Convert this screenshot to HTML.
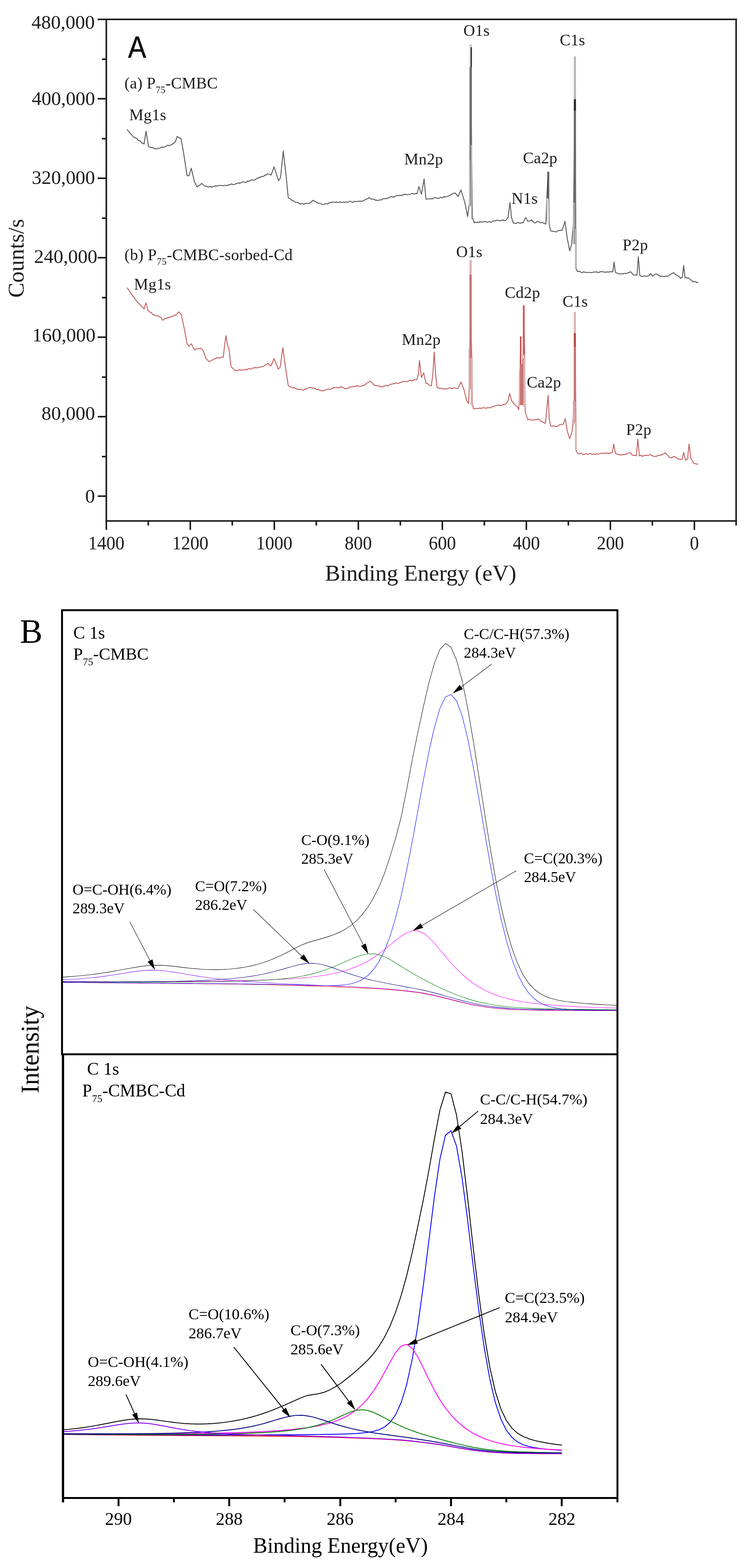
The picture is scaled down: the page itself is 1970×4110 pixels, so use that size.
<!DOCTYPE html>
<html lang="en"><head><meta charset="utf-8"><title>XPS spectra</title>
<style>html,body{margin:0;padding:0;background:#fff}body{width:1970px;height:4110px;overflow:hidden}svg{display:block}text{white-space:pre}</style>
</head><body>
<svg width="1970" height="4110" viewBox="0 0 1970 4110">
<rect x="0" y="0" width="1970" height="4110" fill="#fff"/>
<defs><filter id="soft" x="0" y="0" width="1970" height="1580" filterUnits="userSpaceOnUse"><feGaussianBlur stdDeviation="0.75"/></filter></defs>
<g id="panelA" filter="url(#soft)">
<line x1="256" y1="50.8" x2="1930.4" y2="50.8" stroke="#141414" stroke-width="4" />
<line x1="278.5" y1="48.8" x2="278.5" y2="1389" stroke="#141414" stroke-width="4" />
<line x1="276.5" y1="1365.6" x2="1930.4" y2="1365.6" stroke="#141414" stroke-width="4" />
<line x1="1928.4" y1="48.8" x2="1928.4" y2="1377.5" stroke="#141414" stroke-width="4" />
<text x="248.3" y="75.4" font-family='"Liberation Serif", "DejaVu Serif", serif' font-size="51" text-anchor="end" fill="#1c1c1c" >480,000</text>
<line x1="267" y1="155.2" x2="278.5" y2="155.2" stroke="#141414" stroke-width="4" />
<line x1="256" y1="258.8" x2="278.5" y2="258.8" stroke="#141414" stroke-width="4" />
<text x="249" y="274.6" font-family='"Liberation Serif", "DejaVu Serif", serif' font-size="51" text-anchor="end" fill="#1c1c1c" >400,000</text>
<line x1="267" y1="363.5" x2="278.5" y2="363.5" stroke="#141414" stroke-width="4" />
<line x1="256" y1="467.2" x2="278.5" y2="467.2" stroke="#141414" stroke-width="4" />
<text x="249" y="482" font-family='"Liberation Serif", "DejaVu Serif", serif' font-size="51" text-anchor="end" fill="#1c1c1c" >320,000</text>
<line x1="267" y1="571.8" x2="278.5" y2="571.8" stroke="#141414" stroke-width="4" />
<line x1="256" y1="675.5" x2="278.5" y2="675.5" stroke="#141414" stroke-width="4" />
<text x="255" y="689.1" font-family='"Liberation Serif", "DejaVu Serif", serif' font-size="51" text-anchor="end" fill="#1c1c1c" >240,000</text>
<line x1="267" y1="780.2" x2="278.5" y2="780.2" stroke="#141414" stroke-width="4" />
<line x1="256" y1="883.8" x2="278.5" y2="883.8" stroke="#141414" stroke-width="4" />
<text x="250.3" y="894.8" font-family='"Liberation Serif", "DejaVu Serif", serif' font-size="51" text-anchor="end" fill="#1c1c1c" >160,000</text>
<line x1="267" y1="988.5" x2="278.5" y2="988.5" stroke="#141414" stroke-width="4" />
<line x1="256" y1="1092.2" x2="278.5" y2="1092.2" stroke="#141414" stroke-width="4" />
<text x="249" y="1100.4" font-family='"Liberation Serif", "DejaVu Serif", serif' font-size="51" text-anchor="end" fill="#1c1c1c" >80,000</text>
<line x1="267" y1="1196.8" x2="278.5" y2="1196.8" stroke="#141414" stroke-width="4" />
<line x1="256" y1="1300.5" x2="278.5" y2="1300.5" stroke="#141414" stroke-width="4" />
<text x="248.8" y="1317" font-family='"Liberation Serif", "DejaVu Serif", serif' font-size="51" text-anchor="end" fill="#1c1c1c" >0</text>
<text transform="translate(278.4,1439.5) scale(0.95,1)" font-family='"Liberation Serif", "DejaVu Serif", serif' font-size="50" text-anchor="middle" fill="#1c1c1c">1400</text>
<line x1="388.4" y1="1365.6" x2="388.4" y2="1377.5" stroke="#141414" stroke-width="4" />
<line x1="498.5" y1="1365.6" x2="498.5" y2="1389" stroke="#141414" stroke-width="4" />
<text transform="translate(498.5,1439.5) scale(0.95,1)" font-family='"Liberation Serif", "DejaVu Serif", serif' font-size="50" text-anchor="middle" fill="#1c1c1c">1200</text>
<line x1="608.5" y1="1365.6" x2="608.5" y2="1377.5" stroke="#141414" stroke-width="4" />
<line x1="718.6" y1="1365.6" x2="718.6" y2="1389" stroke="#141414" stroke-width="4" />
<text transform="translate(718.6,1439.5) scale(0.95,1)" font-family='"Liberation Serif", "DejaVu Serif", serif' font-size="50" text-anchor="middle" fill="#1c1c1c">1000</text>
<line x1="828.6" y1="1365.6" x2="828.6" y2="1377.5" stroke="#141414" stroke-width="4" />
<line x1="938.7" y1="1365.6" x2="938.7" y2="1389" stroke="#141414" stroke-width="4" />
<text transform="translate(938.7,1439.5) scale(0.95,1)" font-family='"Liberation Serif", "DejaVu Serif", serif' font-size="50" text-anchor="middle" fill="#1c1c1c">800</text>
<line x1="1048.8" y1="1365.6" x2="1048.8" y2="1377.5" stroke="#141414" stroke-width="4" />
<line x1="1158.8" y1="1365.6" x2="1158.8" y2="1389" stroke="#141414" stroke-width="4" />
<text transform="translate(1158.8,1439.5) scale(0.95,1)" font-family='"Liberation Serif", "DejaVu Serif", serif' font-size="50" text-anchor="middle" fill="#1c1c1c">600</text>
<line x1="1268.8" y1="1365.6" x2="1268.8" y2="1377.5" stroke="#141414" stroke-width="4" />
<line x1="1378.9" y1="1365.6" x2="1378.9" y2="1389" stroke="#141414" stroke-width="4" />
<text transform="translate(1378.9,1439.5) scale(0.95,1)" font-family='"Liberation Serif", "DejaVu Serif", serif' font-size="50" text-anchor="middle" fill="#1c1c1c">400</text>
<line x1="1488.9" y1="1365.6" x2="1488.9" y2="1377.5" stroke="#141414" stroke-width="4" />
<line x1="1599" y1="1365.6" x2="1599" y2="1389" stroke="#141414" stroke-width="4" />
<text transform="translate(1599,1439.5) scale(0.95,1)" font-family='"Liberation Serif", "DejaVu Serif", serif' font-size="50" text-anchor="middle" fill="#1c1c1c">200</text>
<line x1="1709" y1="1365.6" x2="1709" y2="1377.5" stroke="#141414" stroke-width="4" />
<line x1="1819.1" y1="1365.6" x2="1819.1" y2="1389" stroke="#141414" stroke-width="4" />
<text transform="translate(1819.1,1439.5) scale(0.95,1)" font-family='"Liberation Serif", "DejaVu Serif", serif' font-size="50" text-anchor="middle" fill="#1c1c1c">0</text>
<text x="1102" y="1521.5" font-family='"Liberation Serif", "DejaVu Serif", serif' font-size="59.5" text-anchor="middle" fill="#1c1c1c" >Binding Energy (eV)</text>
<text transform="translate(61.8,677) rotate(-90)" font-family='"Liberation Serif", "DejaVu Serif", serif' font-size="59" text-anchor="middle" fill="#1c1c1c">Counts/s</text>
<text transform="translate(335.5,151) scale(0.9,1)" font-family='"Liberation Sans", "DejaVu Sans", sans-serif' font-size="79" fill="#111" stroke="#111" stroke-width="0.8">A</text>
<text x="326" y="231.5" font-family='"Liberation Serif", "DejaVu Serif", serif' font-size="42" fill="#1c1c1c" letter-spacing="0.3">(a) P<tspan font-size="25" dy="12">75</tspan><tspan dy="-12">-CMBC</tspan></text>
<text x="326" y="681.5" font-family='"Liberation Serif", "DejaVu Serif", serif' font-size="42" fill="#1c1c1c" letter-spacing="0.4">(b) P<tspan font-size="25" dy="12">75</tspan><tspan dy="-12">-CMBC-sorbed-Cd</tspan></text>
<text x="338.5" y="315" font-family='"Liberation Serif", "DejaVu Serif", serif' font-size="42" text-anchor="start" fill="#1c1c1c" letter-spacing="0.4">Mg1s</text>
<text x="351" y="759" font-family='"Liberation Serif", "DejaVu Serif", serif' font-size="42" text-anchor="start" fill="#1c1c1c" letter-spacing="0.4">Mg1s</text>
<text x="1214" y="94" font-family='"Liberation Serif", "DejaVu Serif", serif' font-size="42" text-anchor="start" fill="#1c1c1c" letter-spacing="0.4">O1s</text>
<text x="1466.5" y="119" font-family='"Liberation Serif", "DejaVu Serif", serif' font-size="42" text-anchor="start" fill="#1c1c1c" letter-spacing="0.4">C1s</text>
<text x="1059" y="431" font-family='"Liberation Serif", "DejaVu Serif", serif' font-size="42" text-anchor="start" fill="#1c1c1c" letter-spacing="0.4">Mn2p</text>
<text x="1370" y="427.5" font-family='"Liberation Serif", "DejaVu Serif", serif' font-size="42" text-anchor="start" fill="#1c1c1c" letter-spacing="0.4">Ca2p</text>
<text x="1340" y="533.5" font-family='"Liberation Serif", "DejaVu Serif", serif' font-size="42" text-anchor="start" fill="#1c1c1c" letter-spacing="0.4">N1s</text>
<text x="1631" y="656" font-family='"Liberation Serif", "DejaVu Serif", serif' font-size="42" text-anchor="start" fill="#1c1c1c" letter-spacing="0.4">P2p</text>
<text x="1195" y="674" font-family='"Liberation Serif", "DejaVu Serif", serif' font-size="42" text-anchor="start" fill="#1c1c1c" letter-spacing="0.4">O1s</text>
<text x="1322.5" y="781" font-family='"Liberation Serif", "DejaVu Serif", serif' font-size="42" text-anchor="start" fill="#1c1c1c" letter-spacing="0.4">Cd2p</text>
<text x="1473.8" y="804" font-family='"Liberation Serif", "DejaVu Serif", serif' font-size="42" text-anchor="start" fill="#1c1c1c" letter-spacing="0.4">C1s</text>
<text x="1052.5" y="904" font-family='"Liberation Serif", "DejaVu Serif", serif' font-size="42" text-anchor="start" fill="#1c1c1c" letter-spacing="0.4">Mn2p</text>
<text x="1380" y="1016" font-family='"Liberation Serif", "DejaVu Serif", serif' font-size="42" text-anchor="start" fill="#1c1c1c" letter-spacing="0.4">Ca2p</text>
<text x="1640" y="1140" font-family='"Liberation Serif", "DejaVu Serif", serif' font-size="42" text-anchor="start" fill="#1c1c1c" letter-spacing="0.4">P2p</text>
<path d="M332.5 340 L336 342.9 L339.5 347.8 L343 351 L346.5 355.6 L350 359 L353.1 361.5 L356.1 361.6 L359.2 363.5 L362.2 368.4 L365.3 368.5 L368.3 370.4 L371.4 375.1 L374.4 375.3 L377.5 377.5 L382.5 344 L389 384 L392.1 386.1 L395.2 385.9 L398.2 387.5 L401.3 386.8 L404.4 389.5 L407.5 390 L410.7 390.5 L413.9 388.7 L417.1 388.7 L420.4 387.7 L423.6 384.9 L426.8 386.6 L430 385 L433.3 384.3 L436.7 382.3 L440 380.4 L443.3 382.2 L446.7 379.9 L450 379 L453.3 376.7 L456.7 374.3 L460 370 L464 357.5 L467.3 359.9 L470.7 362.3 L474 362.5 L480 395 L490 460 L495 461 L501 441 L509 475 L516 490 L519.8 486.6 L523.7 485 L527.5 481 L531 482.8 L534.5 486.5 L538 488.3 L541.5 487.6 L545 491 L548.1 489.3 L551.2 489 L554.4 491.1 L557.5 488.8 L560.6 488.9 L563.8 487.3 L566.9 487.5 L570 487 L573 486.3 L576 485.9 L579 486.4 L582 486.1 L585 486.9 L588 485.8 L591 486.4 L594 485.8 L597 486 L600 484 L603.1 484.1 L606.2 481.9 L609.2 483.7 L612.3 483.6 L615.4 482.9 L618.5 481.2 L621.5 481.2 L624.6 479 L627.7 480.6 L630.8 479.3 L633.8 477.8 L636.9 476.5 L640 477.5 L643 478 L646 477.7 L649 473.9 L652 475.5 L655 473.4 L658 471.8 L661 471.5 L664 472.4 L667 472 L670 470 L673 467.1 L676 467.6 L679 464.3 L682 465.1 L685 462.4 L688 462.9 L691 461.8 L694 458.8 L697 459.1 L700 456 L703.3 456.4 L706.7 456.6 L710 459 L718 437.5 L730 474 L735 465 L742 396 L750 465 L755 517.5 L758.3 520.7 L761.7 521.6 L765 526 L768.3 526.3 L771.7 528.4 L775 530.4 L778.3 530.2 L781.7 531.1 L785 534 L788.1 535.1 L791.2 533.1 L794.4 535.2 L797.5 534.8 L800.6 533 L803.8 533.1 L806.9 533.2 L810 533 L813.3 530.8 L816.7 528 L820 525 L823.3 526.9 L826.7 528.7 L830 530 L833.5 532.8 L837 532.6 L840.5 533.7 L844 535.9 L847.5 536.5 L851 534.5 L854.5 533.6 L858 534.8 L861.5 532.2 L865 531 L868.2 531.1 L871.4 529.2 L874.5 530.4 L877.7 530.9 L880.9 528.9 L884.1 530.8 L887.3 530.8 L890.5 528.8 L893.6 530.6 L896.8 530 L900 530 L903.1 530.5 L906.2 529.2 L909.4 530.2 L912.5 530.2 L915.6 527.6 L918.8 527.6 L921.9 529.5 L925 530.3 L928.1 527.7 L931.2 528.3 L934.4 528.6 L937.5 527.5 L940.6 527.5 L943.8 527.2 L946.9 527.2 L950 527.5 L953 526.1 L956 523.4 L959 522 L962 521.6 L965 519 L968.1 518.3 L971.2 521 L974.4 522.4 L977.5 521.9 L980.6 522.4 L983.8 525.3 L986.9 524.2 L990 526 L993 524.1 L996 524.1 L999 524.1 L1002 521.2 L1005 521.1 L1008 520.3 L1011 521.2 L1014 519 L1017 519.6 L1020 517.5 L1023.1 515.8 L1026.2 515.8 L1029.2 516.3 L1032.3 516.5 L1035.4 514.4 L1038.5 513.1 L1041.5 512.2 L1044.6 513 L1047.7 511.3 L1050.8 512.8 L1053.8 512.3 L1056.9 509.5 L1060 510 L1063.2 509 L1066.5 510.5 L1069.8 509.7 L1073 510 L1076.2 508.2 L1079.5 507.2 L1082.8 507.5 L1086 509 L1089.2 507 L1092.5 507.5 L1097.5 489 L1104 509 L1111 469 L1116 522.5 L1119.2 521.6 L1122.3 521.4 L1125.5 521 L1128.7 520.5 L1131.8 521.8 L1135 520 L1138.2 518.4 L1141.4 517.4 L1144.5 520.1 L1147.7 519.5 L1150.9 519.4 L1154.1 517 L1157.3 518.3 L1160.5 517.8 L1163.6 515 L1166.8 516.3 L1170 515 L1173.2 514.9 L1176.4 513 L1179.6 511.2 L1182.9 509.1 L1186.1 508 L1189.3 506.4 L1192.5 506 L1200 515 L1207.5 498 L1217.5 530 L1225 567.5 L1230 530 L1232 300 L1233 117.5 L1234.5 300 L1237.5 570 L1242.5 584 L1245.6 582.1 L1248.6 583.4 L1251.7 581.9 L1254.7 583.3 L1257.8 580.2 L1260.8 582.7 L1263.9 581.5 L1266.9 581.9 L1270 580 L1273 581.8 L1276 582.4 L1279 581.8 L1282 580.3 L1285 582.5 L1288 582.3 L1291 579.4 L1294 578.8 L1297 579.1 L1300 577.5 L1303.1 577.6 L1306.2 577.2 L1309.4 579 L1312.5 577.9 L1315.6 577 L1318.8 576.7 L1321.9 578.7 L1325 577.5 L1331 570 L1336 531 L1340 570 L1345 585 L1348.1 584.8 L1351.2 585.7 L1354.4 584.1 L1357.5 583.5 L1360.6 584.5 L1363.8 585.3 L1366.9 583 L1370 584 L1377.5 570 L1382.5 580 L1385.8 579.7 L1389.2 578.8 L1392.5 576 L1396.2 581 L1400 584 L1403.3 584.1 L1406.7 580.3 L1410 581 L1413.3 582.5 L1416.7 584.4 L1420 582.7 L1423.3 584.6 L1426.7 585.6 L1430 587.5 L1432.5 520 L1436 451 L1439 590 L1442.5 605 L1445.6 605.7 L1448.8 606 L1451.9 606.8 L1455 607.5 L1458.5 607.7 L1462 604.4 L1465.5 603.9 L1469 603.4 L1472.5 604 L1480 580 L1486 625 L1492.5 657.5 L1497.5 640 L1502.5 580 L1505 300 L1506 149 L1507.5 300 L1508.5 703 L1513 712 L1516.2 711 L1519.4 711.2 L1522.6 714.6 L1525.8 714.5 L1528.9 712.2 L1532.1 714 L1535.3 713.6 L1538.5 714.6 L1541.5 713.9 L1544.5 713.9 L1547.5 714.8 L1550.5 714.4 L1553.5 713.6 L1556.5 712.9 L1559.5 713.2 L1562.5 712.4 L1565.5 713.8 L1568.5 714.2 L1571.5 712.9 L1574.5 711.8 L1577.5 712 L1580.5 712.6 L1583.5 713.2 L1586.5 713.7 L1589.5 712.2 L1592.5 713.6 L1595.5 712.8 L1598.5 712.3 L1602 712.1 L1605.4 712.3 L1608.6 687 L1612.3 714.6 L1615.4 715.2 L1618.4 716.7 L1621.5 717.8 L1624.6 718.4 L1627.7 717.3 L1630.8 718.1 L1633.8 717.1 L1636.9 716.3 L1640 717 L1643.8 715.6 L1647.7 714.5 L1651.5 712.3 L1655 715 L1658.5 720.6 L1661.9 720.6 L1665.2 720.9 L1668.6 721.5 L1672.3 673 L1676 721.5 L1679.3 723.6 L1682.7 724.5 L1686 723.8 L1689.5 723 L1693 724.5 L1696.5 723.8 L1700 722.5 L1704.6 717 L1710 723.8 L1714.2 720 L1718.5 717.8 L1721.6 719.5 L1724.6 720.3 L1727.7 723.4 L1731 724.5 L1734.3 724 L1737.6 724.7 L1740.9 724.4 L1744.2 724 L1747.5 724.2 L1750.8 723.4 L1754.2 721.4 L1757.7 717.7 L1761.1 717.1 L1764.6 714.6 L1769.2 719.2 L1774.8 722.5 L1778.9 724.5 L1783 729.8 L1787.7 726 L1791 696 L1794.6 728.5 L1797.7 727.3 L1800.7 729.4 L1803.8 728.5 L1808.5 733 L1812 734.5 L1815.4 739 L1818.8 737.9 L1822.2 738.1 L1825.6 741 L1829 740" fill="none" stroke="#5c5c5c" stroke-width="2.4" stroke-linejoin="round"/>
<path d="M333 754 L347.5 775 L362.5 795 L365.5 797.4 L368.5 799.8 L371.5 804.5 L374.5 805.5 L377.5 810 L382.5 794 L387.5 814 L390.5 816.5 L393.5 818.3 L396.5 819.7 L399.5 823.6 L402.5 826 L405.8 825.5 L409.2 827.9 L412.5 827.8 L415.8 828.9 L419.2 831.2 L422.5 832.5 L425 839 L428 838.8 L431 835.1 L434 834.2 L437 834.2 L440 832.5 L443.3 832.9 L446.7 830.6 L450 828.9 L453.3 829.8 L456.7 825.5 L460 826 L463 824.4 L466 819.6 L469 817.5 L475 825 L482.5 860 L490 900 L495 907.5 L501 901 L510 917.5 L513 915.3 L516 914.2 L519 913.8 L522 914.6 L525 912.5 L528.8 915.2 L532.5 920 L540 940 L543.8 944 L547.5 947.5 L551 946.5 L554.5 944.1 L558 943.2 L561.5 940 L565 940 L568.3 937.8 L571.7 937.7 L575 938.6 L578.3 937.1 L581.7 936 L585 936 L589 900 L592 880 L596 905 L600 915 L605 960 L608.3 964 L611.7 967.2 L615 971 L618 970.1 L621 971.6 L624 971.1 L627 969.3 L630 970 L633 969.9 L636 969.3 L639 970.1 L642 969.2 L645 967.3 L648 969.2 L651 965.9 L654 966.5 L657 967.3 L660 966 L663 964.2 L666 964.8 L669 962.6 L672 964.2 L675 963.9 L678 962.6 L681 963.1 L684 960.6 L687 961.3 L690 960 L693.1 958.4 L696.2 956.5 L699.4 954.2 L702.5 952.5 L706.2 956.9 L710 959 L718 940 L729 967.5 L734 962.5 L741 911 L747.5 960 L755 1010 L758.3 1013.5 L761.7 1013.9 L765 1016 L768 1017.2 L771 1015.8 L774 1018.6 L777 1019.1 L780 1020.9 L783 1021 L786 1019.8 L789 1020.8 L792 1022.4 L795 1022.5 L798.3 1019.8 L801.7 1020.2 L805 1018.1 L808.3 1016.9 L811.7 1015.6 L815 1016 L818.1 1017.8 L821.1 1016.5 L824.2 1017.8 L827.2 1019.2 L830.3 1021.7 L833.3 1019.9 L836.4 1022 L839.4 1023.3 L842.5 1024 L845.6 1024.6 L848.6 1023.8 L851.7 1023.2 L854.7 1020.6 L857.8 1020.4 L860.8 1019.5 L863.9 1020.6 L866.9 1020.2 L870 1018 L873.1 1016.5 L876.1 1016.2 L879.2 1016.1 L882.2 1015.8 L885.3 1016.3 L888.3 1016.3 L891.4 1014.9 L894.4 1013.6 L897.5 1015 L901.2 1017.2 L905 1020 L908 1018.1 L911 1017.2 L914 1017 L917 1014 L920.2 1014.3 L923.5 1013.3 L926.8 1013.3 L930 1012.5 L933.1 1012.8 L936.2 1010.4 L939.4 1012.9 L942.5 1012.2 L945.6 1012.2 L948.8 1011.6 L951.9 1009.9 L955 1010 L958.5 1006.9 L962 1003.2 L965.5 1002.2 L969 999 L972.7 1001.2 L976.3 1004.9 L980 1010 L983.3 1009.8 L986.7 1010.5 L990 1012 L993.3 1011.8 L996.7 1012.5 L1000 1015 L1003.2 1012.9 L1006.4 1011.8 L1009.5 1011.8 L1012.7 1009.8 L1015.9 1011.7 L1019.1 1009.9 L1022.3 1007.4 L1025.5 1006.9 L1028.6 1006.3 L1031.8 1005.4 L1035 1005 L1038.2 1003.2 L1041.4 1005.1 L1044.5 1005 L1047.7 1002.7 L1050.9 1002.2 L1054.1 1000.3 L1057.3 999.8 L1060.5 1000.1 L1063.6 999.3 L1066.8 1000.7 L1070 999 L1073.2 997.3 L1076.4 996.2 L1079.6 998.8 L1082.9 996.8 L1086.1 994.9 L1089.3 995.7 L1092.5 995 L1096 980 L1099 945 L1104 990 L1110 977.5 L1116 1005 L1119.5 1004.9 L1123 1008.1 L1126.5 1011.1 L1130 1011 L1134 980 L1137.5 922.5 L1141 980 L1145 1015 L1148 1017.2 L1151 1017.7 L1154 1017.2 L1157 1018.5 L1160 1020 L1163 1018.5 L1166 1020.1 L1169 1018.9 L1172 1019.3 L1175 1017.4 L1178 1016.7 L1181 1018.3 L1184 1018.4 L1187 1017.6 L1190 1016 L1193.3 1017.5 L1196.7 1018.1 L1200 1017.5 L1207.5 1001 L1215 1020 L1222.5 1050 L1227.5 1057.5 L1230 1000 L1231.5 850 L1232.5 682.5 L1234 850 L1236 940 L1238 1060 L1240 1071 L1243.3 1071.8 L1246.7 1070.1 L1250 1071.1 L1253.3 1070.5 L1256.7 1069.4 L1260 1071 L1263 1068.9 L1266 1069.3 L1269 1068.7 L1272 1069.7 L1275 1070.1 L1278 1067.8 L1281 1069 L1284 1068.7 L1287 1068 L1290 1066 L1293.2 1064.9 L1296.4 1063.8 L1299.5 1063.2 L1302.7 1062.4 L1305.9 1061.8 L1309.1 1062.6 L1312.3 1062.9 L1315.5 1062.1 L1318.6 1060.2 L1321.8 1060.2 L1325 1059 L1331 1050 L1335 1031 L1340 1050 L1347.5 1060 L1351.2 1063.5 L1355 1065 L1359 1074 L1362.5 970 L1364 882.5 L1366 1050 L1368 1060 L1370 930 L1372 801 L1374 942 L1376 1080 L1382.5 1100 L1386 1098.6 L1389.5 1100.5 L1393 1101.4 L1396.5 1101 L1400 1100 L1403.1 1100.6 L1406.2 1099.4 L1409.4 1098.2 L1412.5 1099 L1416.2 1103.5 L1420 1106 L1423 1106.4 L1426 1109 L1429 1109 L1432 1075 L1436 1036 L1439 1100 L1442.5 1116 L1445.6 1118 L1448.8 1116.4 L1451.9 1116.8 L1455 1117.5 L1458.3 1118.2 L1461.7 1116.6 L1465 1113.9 L1468.3 1112.9 L1471.7 1112.1 L1475 1112.5 L1481 1097.5 L1486 1130 L1492.5 1150 L1499 1130 L1504 1050 L1505 930 L1506 818.5 L1507.5 930 L1509 1180 L1513 1188 L1516.2 1189.7 L1519.4 1189.7 L1522.6 1187.7 L1525.8 1190.4 L1528.9 1191.2 L1532.1 1190.4 L1535.3 1189.7 L1538.5 1190.5 L1541.5 1190.5 L1544.5 1189 L1547.5 1188.5 L1550.5 1191.6 L1553.5 1190.4 L1556.5 1189.8 L1559.5 1191.1 L1562.5 1189.3 L1565.5 1190.6 L1568.5 1190.4 L1571.5 1188.1 L1574.5 1188.2 L1577.5 1188.2 L1580.5 1187.9 L1583.5 1188.9 L1586.5 1187.7 L1589.5 1188.1 L1592.5 1187 L1595.5 1189.5 L1598.5 1188 L1604.5 1186 L1607.7 1164 L1612.3 1189 L1615.4 1189.5 L1618.4 1190.9 L1621.5 1192 L1624.6 1192 L1627.7 1192.9 L1630.8 1191 L1633.8 1192.4 L1636.9 1190.8 L1640 1190.5 L1643 1189.1 L1646 1187.6 L1649 1186 L1652.5 1187.9 L1656 1193 L1659.6 1193.5 L1663.2 1193.3 L1666.8 1195 L1671 1151 L1675 1195 L1678.7 1193.3 L1682.3 1196 L1686 1195 L1689.3 1193.3 L1692.5 1193.7 L1695.8 1194 L1699 1192.8 L1702.3 1192 L1706.1 1192.9 L1710 1195.1 L1713.8 1196.5 L1716.9 1196.1 L1720 1196.3 L1723 1193.4 L1726.1 1194.4 L1729.2 1192.7 L1732.3 1193 L1735.7 1190.2 L1739.1 1189.9 L1742.5 1187 L1745.7 1190.2 L1749 1193.6 L1752.2 1197.4 L1755.4 1199.7 L1759.3 1200 L1763.1 1197.4 L1767 1196.5 L1770 1199 L1773 1200.9 L1776 1203 L1779.6 1203.5 L1783.2 1204.5 L1786.8 1204.3 L1791 1186 L1796 1206.6 L1801.5 1202 L1805 1164 L1810 1202 L1817.7 1215 L1821.5 1215.4 L1825.2 1216.3 L1829 1216.8" fill="none" stroke="#c26262" stroke-width="2.4" stroke-linejoin="round"/>
<rect x="1230" y="117" width="6.2" height="59" fill="#c8c8c8"/>
<rect x="1233" y="124" width="3.2" height="52" fill="#2a2a2a"/>
<rect x="1230" y="176" width="6.2" height="204" fill="#6c6c6c"/>
<rect x="1228.5" y="420" width="3" height="120" fill="#c4c4c4"/>
<rect x="1231.5" y="380" width="2.5" height="160" fill="#8a8a8a"/>
<rect x="1234" y="380" width="3" height="195" fill="#b4b4b4"/>
<rect x="1503.2" y="149" width="5.6" height="111" fill="#b8b8b8"/>
<rect x="1503.2" y="260" width="5.6" height="30" fill="#2a2a2a"/>
<rect x="1503.2" y="290" width="5.6" height="241" fill="#6c6c6c"/>
<rect x="1500.6" y="531" width="3" height="109" fill="#c0c0c0"/>
<rect x="1503.6" y="531" width="2.8" height="109" fill="#8a8a8a"/>
<rect x="1506.4" y="600" width="4.6" height="104" fill="#b4b4b4"/>
<rect x="1434.3" y="450" width="2.7" height="70" fill="#3a3a3a"/>
<rect x="1437" y="450" width="2.6" height="140" fill="#9a9a9a"/>
<rect x="1431.5" y="520" width="2.8" height="60" fill="#b8b8b8"/>
<rect x="1229.8" y="681.5" width="6" height="38.5" fill="#dcb4b4"/>
<rect x="1229.8" y="720" width="3" height="20" fill="#c46464"/>
<rect x="1229.8" y="720" width="6" height="218" fill="#c87474"/>
<rect x="1227" y="915" width="3" height="105" fill="#e0c0c0"/>
<rect x="1230" y="938" width="3" height="82" fill="#cc9090"/>
<rect x="1233" y="938" width="5.5" height="124" fill="#dcb0b0"/>
<rect x="1368.3" y="801" width="2.7" height="139" fill="#ecc0c0"/>
<rect x="1371" y="801" width="3" height="129" fill="#c23434"/>
<rect x="1362" y="882" width="3" height="73" fill="#b44848"/>
<rect x="1365" y="882" width="3.3" height="73" fill="#ecc0c0"/>
<rect x="1362" y="955" width="9" height="107" fill="#c87474"/>
<rect x="1359" y="970" width="3" height="96" fill="#e0b8b8"/>
<rect x="1371" y="940" width="5.5" height="126" fill="#e0b4b4"/>
<rect x="1503.1" y="819" width="5.6" height="54.5" fill="#dcb4b4"/>
<rect x="1503.1" y="873.5" width="5.6" height="35.5" fill="#b44c4c"/>
<rect x="1503.1" y="909" width="5.6" height="143.5" fill="#c87474"/>
<rect x="1500.4" y="1052" width="3" height="68" fill="#e0b8b8"/>
<rect x="1503.4" y="1052" width="2.8" height="58" fill="#cc8c8c"/>
<rect x="1506.2" y="1105" width="4.8" height="73" fill="#e0b4b4"/>
</g>
<g id="panelB">
<rect x="160" y="1597" width="1460" height="5" fill="#000"/>
<rect x="160" y="1597" width="5" height="1169" fill="#000"/>
<rect x="1615" y="1597" width="5" height="2341" fill="#000"/>
<rect x="160" y="2761" width="1460" height="5" fill="#000"/>
<rect x="162" y="2761" width="6" height="1177" fill="#000"/>
<rect x="162" y="3924" width="1458" height="5" fill="#000"/>
<rect x="1469" y="3926" width="5" height="22" fill="#000"/>
<text x="1472" y="3997" font-family='"Liberation Serif", "DejaVu Serif", serif' font-size="47" text-anchor="middle" fill="#000" >282</text>
<rect x="1324" y="3926" width="5" height="12" fill="#000"/>
<rect x="1179" y="3926" width="5" height="22" fill="#000"/>
<text x="1181.5" y="3997" font-family='"Liberation Serif", "DejaVu Serif", serif' font-size="47" text-anchor="middle" fill="#000" >284</text>
<rect x="1034" y="3926" width="5" height="12" fill="#000"/>
<rect x="889" y="3926" width="5" height="22" fill="#000"/>
<text x="891.1" y="3997" font-family='"Liberation Serif", "DejaVu Serif", serif' font-size="47" text-anchor="middle" fill="#000" >286</text>
<rect x="743" y="3926" width="5" height="12" fill="#000"/>
<rect x="598" y="3926" width="5" height="22" fill="#000"/>
<text x="600.6" y="3997" font-family='"Liberation Serif", "DejaVu Serif", serif' font-size="47" text-anchor="middle" fill="#000" >288</text>
<rect x="453" y="3926" width="5" height="12" fill="#000"/>
<rect x="308" y="3926" width="5" height="22" fill="#000"/>
<text x="310.2" y="3997" font-family='"Liberation Serif", "DejaVu Serif", serif' font-size="47" text-anchor="middle" fill="#000" >290</text>
<text x="892" y="4070" font-family='"Liberation Serif", "DejaVu Serif", serif' font-size="56" text-anchor="middle" fill="#000" >Binding Energy(eV)</text>
<text transform="translate(100.5,2751) rotate(-90) scale(0.98,1)" font-family='"Liberation Serif", "DejaVu Serif", serif' font-size="67" text-anchor="middle" fill="#000">Intensity</text>
<text x="52" y="1684" font-family='"Liberation Serif", "DejaVu Serif", serif' font-size="89" text-anchor="start" fill="#000" >B</text>
<text x="192" y="1674" font-family='"Liberation Serif", "DejaVu Serif", serif' font-size="46" text-anchor="start" fill="#000" >C 1s</text>
<text x="192" y="1729" font-family='"Liberation Serif", "DejaVu Serif", serif' font-size="45" fill="#000" >P<tspan font-size="27" dy="15">75</tspan><tspan dy="-15">-CMBC</tspan></text>
<text x="228" y="2816.5" font-family='"Liberation Serif", "DejaVu Serif", serif' font-size="46.5" text-anchor="start" fill="#000" >C 1s</text>
<text x="215.5" y="2874" font-family='"Liberation Serif", "DejaVu Serif", serif' font-size="46" fill="#000" >P<tspan font-size="27" dy="15">75</tspan><tspan dy="-15">-CMBC-Cd</tspan></text>
<text x="1215" y="1675" font-family='"Liberation Serif", "DejaVu Serif", serif' font-size="40" text-anchor="start" fill="#000" >C-C/C-H(57.3%)</text>
<text x="1215" y="1724" font-family='"Liberation Serif", "DejaVu Serif", serif' font-size="40" text-anchor="start" fill="#000" >284.3eV</text>
<text x="1372.5" y="2262.5" font-family='"Liberation Serif", "DejaVu Serif", serif' font-size="40" text-anchor="start" fill="#000" >C=C(20.3%)</text>
<text x="1372.5" y="2311.5" font-family='"Liberation Serif", "DejaVu Serif", serif' font-size="40" text-anchor="start" fill="#000" >284.5eV</text>
<text x="789" y="2215" font-family='"Liberation Serif", "DejaVu Serif", serif' font-size="40" text-anchor="start" fill="#000" >C-O(9.1%)</text>
<text x="789" y="2264" font-family='"Liberation Serif", "DejaVu Serif", serif' font-size="40" text-anchor="start" fill="#000" >285.3eV</text>
<text x="511" y="2336" font-family='"Liberation Serif", "DejaVu Serif", serif' font-size="40" text-anchor="start" fill="#000" >C=O(7.2%)</text>
<text x="511" y="2385" font-family='"Liberation Serif", "DejaVu Serif", serif' font-size="40" text-anchor="start" fill="#000" >286.2eV</text>
<text x="190" y="2345" font-family='"Liberation Serif", "DejaVu Serif", serif' font-size="40" text-anchor="start" fill="#000" >O=C-OH(6.4%)</text>
<text x="190" y="2394" font-family='"Liberation Serif", "DejaVu Serif", serif' font-size="40" text-anchor="start" fill="#000" >289.3eV</text>
<text x="1257.5" y="2895" font-family='"Liberation Serif", "DejaVu Serif", serif' font-size="40.7" text-anchor="start" fill="#000" >C-C/C-H(54.7%)</text>
<text x="1257.5" y="2946" font-family='"Liberation Serif", "DejaVu Serif", serif' font-size="40.7" text-anchor="start" fill="#000" >284.3eV</text>
<text x="1322.5" y="3415" font-family='"Liberation Serif", "DejaVu Serif", serif' font-size="40.7" text-anchor="start" fill="#000" >C=C(23.5%)</text>
<text x="1322.5" y="3466" font-family='"Liberation Serif", "DejaVu Serif", serif' font-size="40.7" text-anchor="start" fill="#000" >284.9eV</text>
<text x="761" y="3500" font-family='"Liberation Serif", "DejaVu Serif", serif' font-size="40.7" text-anchor="start" fill="#000" >C-O(7.3%)</text>
<text x="761" y="3550" font-family='"Liberation Serif", "DejaVu Serif", serif' font-size="40.7" text-anchor="start" fill="#000" >285.6eV</text>
<text x="494" y="3457.5" font-family='"Liberation Serif", "DejaVu Serif", serif' font-size="40.7" text-anchor="start" fill="#000" >C=O(10.6%)</text>
<text x="494" y="3507.5" font-family='"Liberation Serif", "DejaVu Serif", serif' font-size="40.7" text-anchor="start" fill="#000" >286.7eV</text>
<text x="230" y="3582.5" font-family='"Liberation Serif", "DejaVu Serif", serif' font-size="40.7" text-anchor="start" fill="#000" >O=C-OH(4.1%)</text>
<text x="230" y="3632.5" font-family='"Liberation Serif", "DejaVu Serif", serif' font-size="40.7" text-anchor="start" fill="#000" >289.6eV</text>
<path d="M165 2561.1 L179.5 2560.1 L194 2559 L208.5 2557.7 L223.1 2556.3 L237.6 2554.7 L252.1 2552.9 L266.6 2550.8 L281.2 2548.6 L295.7 2546.1 L310.2 2543.5 L324.7 2540.8 L339.2 2538.2 L353.8 2535.6 L368.3 2533.4 L382.8 2531.6 L397.3 2530.5 L411.9 2530.1 L426.4 2530.4 L440.9 2531.4 L455.4 2532.9 L469.9 2534.6 L484.5 2536.4 L499 2538 L513.5 2539.4 L528 2540.5 L542.6 2541.2 L557.1 2541.6 L571.6 2541.6 L586.1 2541.1 L600.6 2540.2 L615.2 2538.8 L629.7 2536.9 L644.2 2534.5 L658.7 2531.6 L673.2 2528 L687.8 2523.7 L702.3 2518.7 L716.8 2513 L731.3 2506.5 L745.9 2499.4 L760.4 2491.9 L774.9 2484.4 L789.4 2477.5 L803.9 2471.6 L818.5 2467.1 L833 2463.1 L847.5 2458.9 L862 2454.4 L876.6 2449.2 L891.1 2442.9 L905.6 2435.1 L920.1 2425.1 L934.6 2412.6 L949.2 2396.9 L963.7 2377.5 L978.2 2353.8 L992.7 2324.9 L1007.3 2289.2 L1021.8 2244.9 L1036.3 2198 L1050.8 2141.9 L1065.3 2070.2 L1079.9 1991.6 L1094.4 1921.1 L1108.9 1853.3 L1123.4 1790.6 L1138 1738.4 L1152.5 1702 L1167 1686.7 L1181.5 1696.4 L1196 1730.1 L1210.6 1784.1 L1225.1 1855.8 L1239.6 1940.4 L1254.1 2032.3 L1268.7 2126.2 L1283.2 2217 L1297.7 2300.4 L1312.2 2373.6 L1326.7 2435.5 L1341.3 2485.7 L1355.8 2525.1 L1370.3 2554.9 L1384.8 2577 L1399.4 2592.7 L1413.9 2603.7 L1428.4 2611.4 L1442.9 2616.8 L1457.4 2620.7 L1472 2623.5 L1486.5 2625.7 L1501 2627.4 L1515.5 2628.8 L1530 2630 L1544.6 2631.1 L1559.1 2632.1 L1573.6 2632.9 L1588.1 2633.7 L1602.7 2634.5 L1615 2635.1" fill="none" stroke="#000" stroke-width="1.15" stroke-linejoin="round"/>
<path d="M165 2575 L179.5 2575.2 L194 2575.3 L208.5 2575.5 L223.1 2575.6 L237.6 2575.8 L252.1 2575.9 L266.6 2576.1 L281.2 2576.3 L295.7 2576.4 L310.2 2576.6 L324.7 2576.7 L339.2 2576.9 L353.8 2577 L368.3 2577.2 L382.8 2577.3 L397.3 2577.5 L411.9 2577.6 L426.4 2577.8 L440.9 2577.9 L455.4 2578 L469.9 2578.1 L484.5 2578.3 L499 2578.4 L513.5 2578.5 L528 2578.6 L542.6 2578.8 L557.1 2578.9 L571.6 2579 L586.1 2579.2 L600.6 2579.3 L615.2 2579.5 L629.7 2579.7 L644.2 2579.9 L658.7 2580.1 L673.2 2580.4 L687.8 2580.7 L702.3 2581.1 L716.8 2581.5 L731.3 2581.9 L745.9 2582.3 L760.4 2582.8 L774.9 2583.2 L789.4 2583.7 L803.9 2584.1 L818.5 2584.6 L833 2585 L847.5 2585.5 L862 2586 L876.6 2586.6 L891.1 2587.1 L905.6 2587.7 L920.1 2588.3 L934.6 2589 L949.2 2589.6 L963.7 2590.4 L978.2 2591.2 L992.7 2592 L1007.3 2593 L1021.8 2594.1 L1036.3 2595.3 L1050.8 2596.7 L1065.3 2598.2 L1079.9 2599.9 L1094.4 2601.7 L1108.9 2603.9 L1123.4 2606.6 L1138 2609.8 L1152.5 2613.1 L1167 2616.6 L1181.5 2620.4 L1196 2624.1 L1210.6 2627.5 L1225.1 2630.9 L1239.6 2634.1 L1254.1 2636.7 L1268.7 2639 L1283.2 2641.1 L1297.7 2642.8 L1312.2 2644.1 L1326.7 2645.2 L1341.3 2646.1 L1355.8 2646.7 L1370.3 2647.3 L1384.8 2647.7 L1399.4 2648 L1413.9 2648.1 L1428.4 2648.3 L1442.9 2648.4 L1457.4 2648.5 L1472 2648.6 L1486.5 2648.6 L1501 2648.7 L1515.5 2648.8 L1530 2648.8 L1544.6 2648.9 L1559.1 2648.9 L1573.6 2649 L1588.1 2649 L1602.7 2649 L1615 2649" fill="none" stroke="#ff0000" stroke-width="1.15" stroke-linejoin="round"/>
<path d="M165 2574.8 L179.5 2574.9 L194 2575.1 L208.5 2575.2 L223.1 2575.4 L237.6 2575.5 L252.1 2575.7 L266.6 2575.8 L281.2 2576 L295.7 2576.1 L310.2 2576.3 L324.7 2576.4 L339.2 2576.5 L353.8 2576.7 L368.3 2576.8 L382.8 2577 L397.3 2577.1 L411.9 2577.2 L426.4 2577.4 L440.9 2577.5 L455.4 2577.6 L469.9 2577.7 L484.5 2577.8 L499 2577.9 L513.5 2578 L528 2578.1 L542.6 2578.2 L557.1 2578.3 L571.6 2578.4 L586.1 2578.5 L600.6 2578.7 L615.2 2578.8 L629.7 2579 L644.2 2579.1 L658.7 2579.3 L673.2 2579.5 L687.8 2579.8 L702.3 2580.1 L716.8 2580.4 L731.3 2580.8 L745.9 2581.1 L760.4 2581.5 L774.9 2581.9 L789.4 2582.2 L803.9 2582.5 L818.5 2582.8 L833 2583.1 L847.5 2583.2 L862 2583.3 L876.6 2583 L891.1 2582.4 L905.6 2581 L920.1 2578.5 L934.6 2574.2 L949.2 2567.4 L963.7 2557 L978.2 2541.9 L992.7 2520.6 L1007.3 2491.7 L1021.8 2453.9 L1036.3 2406.2 L1050.8 2348.4 L1065.3 2281.1 L1079.9 2206.2 L1094.4 2126.6 L1108.9 2046.5 L1123.4 1971.5 L1138 1906.6 L1152.5 1856.9 L1167 1827.1 L1181.5 1820.2 L1196 1837 L1210.6 1876.4 L1225.1 1935.3 L1239.6 2008.7 L1254.1 2090.9 L1268.7 2176.4 L1283.2 2260.2 L1297.7 2338.1 L1312.2 2407.3 L1326.7 2466.2 L1341.3 2514.4 L1355.8 2552.4 L1370.3 2581.4 L1384.8 2602.7 L1399.4 2617.7 L1413.9 2628 L1428.4 2635 L1442.9 2639.5 L1457.4 2642.4 L1472 2644.2 L1486.5 2645.4 L1501 2646.1 L1515.5 2646.6 L1530 2647 L1544.6 2647.2 L1559.1 2647.4 L1573.6 2647.5 L1588.1 2647.7 L1602.7 2647.8 L1615 2647.8" fill="none" stroke="#0000ff" stroke-width="1.15" stroke-linejoin="round"/>
<path d="M165 2572.6 L179.5 2572.7 L194 2572.7 L208.5 2572.8 L223.1 2572.9 L237.6 2573 L252.1 2573 L266.6 2573.1 L281.2 2573.1 L295.7 2573.2 L310.2 2573.2 L324.7 2573.2 L339.2 2573.2 L353.8 2573.2 L368.3 2573.3 L382.8 2573.2 L397.3 2573.2 L411.9 2573.2 L426.4 2573.1 L440.9 2573.1 L455.4 2573 L469.9 2572.9 L484.5 2572.8 L499 2572.6 L513.5 2572.5 L528 2572.3 L542.6 2572.1 L557.1 2571.9 L571.6 2571.6 L586.1 2571.4 L600.6 2571.1 L615.2 2570.8 L629.7 2570.4 L644.2 2570.1 L658.7 2569.7 L673.2 2569.3 L687.8 2568.8 L702.3 2568.3 L716.8 2567.8 L731.3 2567.2 L745.9 2566.5 L760.4 2565.7 L774.9 2564.7 L789.4 2563.6 L803.9 2562.2 L818.5 2560.7 L833 2558.8 L847.5 2556.7 L862 2554.2 L876.6 2551.2 L891.1 2547.8 L905.6 2543.8 L920.1 2539 L934.6 2533.4 L949.2 2526.8 L963.7 2519.2 L978.2 2510.3 L992.7 2500.3 L1007.3 2489.1 L1021.8 2477.1 L1036.3 2465 L1050.8 2453.9 L1065.3 2445 L1079.9 2440 L1094.4 2439.9 L1108.9 2445.7 L1123.4 2457.1 L1138 2472.3 L1152.5 2489.3 L1167 2506.9 L1181.5 2523.9 L1196 2539.6 L1210.6 2553.7 L1225.1 2566.3 L1239.6 2577.3 L1254.1 2586.7 L1268.7 2594.7 L1283.2 2601.7 L1297.7 2607.6 L1312.2 2612.5 L1326.7 2616.8 L1341.3 2620.4 L1355.8 2623.4 L1370.3 2626 L1384.8 2628.3 L1399.4 2630.1 L1413.9 2631.7 L1428.4 2633.1 L1442.9 2634.3 L1457.4 2635.4 L1472 2636.4 L1486.5 2637.3 L1501 2638.1 L1515.5 2638.9 L1530 2639.5 L1544.6 2640.1 L1559.1 2640.7 L1573.6 2641.2 L1588.1 2641.6 L1602.7 2642 L1615 2642.4" fill="none" stroke="#ff00ff" stroke-width="1.15" stroke-linejoin="round"/>
<path d="M165 2573.4 L179.5 2573.5 L194 2573.6 L208.5 2573.7 L223.1 2573.8 L237.6 2573.8 L252.1 2573.9 L266.6 2574 L281.2 2574.1 L295.7 2574.1 L310.2 2574.2 L324.7 2574.2 L339.2 2574.3 L353.8 2574.3 L368.3 2574.3 L382.8 2574.3 L397.3 2574.4 L411.9 2574.3 L426.4 2574.3 L440.9 2574.3 L455.4 2574.2 L469.9 2574.1 L484.5 2574 L499 2573.9 L513.5 2573.7 L528 2573.6 L542.6 2573.4 L557.1 2573.2 L571.6 2572.9 L586.1 2572.6 L600.6 2572.3 L615.2 2572 L629.7 2571.6 L644.2 2571.1 L658.7 2570.6 L673.2 2570 L687.8 2569.4 L702.3 2568.6 L716.8 2567.6 L731.3 2566.5 L745.9 2565.1 L760.4 2563.5 L774.9 2561.4 L789.4 2559 L803.9 2556.1 L818.5 2552.6 L833 2548.6 L847.5 2544 L862 2538.7 L876.6 2533 L891.1 2526.7 L905.6 2520.2 L920.1 2513.8 L934.6 2507.9 L949.2 2503.3 L963.7 2500.5 L978.2 2500.1 L992.7 2502.6 L1007.3 2507.8 L1021.8 2515.1 L1036.3 2523.8 L1050.8 2532.9 L1065.3 2542 L1079.9 2550.8 L1094.4 2559.1 L1108.9 2566.9 L1123.4 2574.6 L1138 2582 L1152.5 2588.9 L1167 2595.5 L1181.5 2601.8 L1196 2607.7 L1210.6 2613 L1225.1 2617.9 L1239.6 2622.4 L1254.1 2626.1 L1268.7 2629.4 L1283.2 2632.3 L1297.7 2634.7 L1312.2 2636.6 L1326.7 2638.3 L1341.3 2639.7 L1355.8 2640.8 L1370.3 2641.8 L1384.8 2642.6 L1399.4 2643.1 L1413.9 2643.6 L1428.4 2644 L1442.9 2644.3 L1457.4 2644.7 L1472 2645 L1486.5 2645.3 L1501 2645.5 L1515.5 2645.7 L1530 2645.9 L1544.6 2646.1 L1559.1 2646.3 L1573.6 2646.5 L1588.1 2646.6 L1602.7 2646.7 L1615 2646.8" fill="none" stroke="#008000" stroke-width="1.15" stroke-linejoin="round"/>
<path d="M165 2573.1 L179.5 2573.2 L194 2573.2 L208.5 2573.3 L223.1 2573.3 L237.6 2573.4 L252.1 2573.4 L266.6 2573.5 L281.2 2573.5 L295.7 2573.5 L310.2 2573.5 L324.7 2573.4 L339.2 2573.4 L353.8 2573.4 L368.3 2573.3 L382.8 2573.2 L397.3 2573.1 L411.9 2572.9 L426.4 2572.7 L440.9 2572.5 L455.4 2572.2 L469.9 2571.9 L484.5 2571.6 L499 2571.1 L513.5 2570.6 L528 2570.1 L542.6 2569.4 L557.1 2568.7 L571.6 2567.8 L586.1 2566.8 L600.6 2565.7 L615.2 2564.3 L629.7 2562.8 L644.2 2561 L658.7 2558.9 L673.2 2556.5 L687.8 2553.7 L702.3 2550.6 L716.8 2547 L731.3 2543.1 L745.9 2538.9 L760.4 2534.7 L774.9 2530.7 L789.4 2527.4 L803.9 2525.4 L818.5 2524.9 L833 2526.2 L847.5 2529.2 L862 2533.4 L876.6 2538.4 L891.1 2543.7 L905.6 2549 L920.1 2553.9 L934.6 2558.5 L949.2 2562.7 L963.7 2566.6 L978.2 2570 L992.7 2573.2 L1007.3 2576.2 L1021.8 2579 L1036.3 2581.8 L1050.8 2584.4 L1065.3 2587.1 L1079.9 2589.8 L1094.4 2592.5 L1108.9 2595.4 L1123.4 2598.9 L1138 2602.6 L1152.5 2606.4 L1167 2610.5 L1181.5 2614.7 L1196 2618.8 L1210.6 2622.6 L1225.1 2626.3 L1239.6 2629.7 L1254.1 2632.6 L1268.7 2635.2 L1283.2 2637.5 L1297.7 2639.4 L1312.2 2640.9 L1326.7 2642.1 L1341.3 2643.2 L1355.8 2644 L1370.3 2644.7 L1384.8 2645.3 L1399.4 2645.6 L1413.9 2645.9 L1428.4 2646.1 L1442.9 2646.3 L1457.4 2646.5 L1472 2646.7 L1486.5 2646.8 L1501 2647 L1515.5 2647.1 L1530 2647.3 L1544.6 2647.4 L1559.1 2647.5 L1573.6 2647.5 L1588.1 2647.6 L1602.7 2647.7 L1615 2647.7" fill="none" stroke="#000080" stroke-width="1.15" stroke-linejoin="round"/>
<path d="M165 2568.2 L179.5 2567.5 L194 2566.7 L208.5 2565.7 L223.1 2564.5 L237.6 2563.2 L252.1 2561.6 L266.6 2559.9 L281.2 2557.9 L295.7 2555.7 L310.2 2553.4 L324.7 2551 L339.2 2548.6 L353.8 2546.4 L368.3 2544.6 L382.8 2543.4 L397.3 2542.9 L411.9 2543.3 L426.4 2544.4 L440.9 2546 L455.4 2548.1 L469.9 2550.5 L484.5 2553 L499 2555.5 L513.5 2557.9 L528 2560.2 L542.6 2562.3 L557.1 2564.2 L571.6 2566 L586.1 2567.6 L600.6 2569 L615.2 2570.3 L629.7 2571.5 L644.2 2572.6 L658.7 2573.5 L673.2 2574.4 L687.8 2575.3 L702.3 2576.1 L716.8 2577 L731.3 2577.7 L745.9 2578.5 L760.4 2579.2 L774.9 2579.9 L789.4 2580.6 L803.9 2581.2 L818.5 2581.9 L833 2582.5 L847.5 2583.2 L862 2583.8 L876.6 2584.5 L891.1 2585.1 L905.6 2585.8 L920.1 2586.5 L934.6 2587.3 L949.2 2588 L963.7 2588.8 L978.2 2589.7 L992.7 2590.6 L1007.3 2591.7 L1021.8 2592.8 L1036.3 2594.1 L1050.8 2595.5 L1065.3 2597.1 L1079.9 2598.8 L1094.4 2600.7 L1108.9 2602.9 L1123.4 2605.7 L1138 2608.9 L1152.5 2612.2 L1167 2615.7 L1181.5 2619.6 L1196 2623.3 L1210.6 2626.7 L1225.1 2630.2 L1239.6 2633.3 L1254.1 2636 L1268.7 2638.4 L1283.2 2640.5 L1297.7 2642.1 L1312.2 2643.5 L1326.7 2644.6 L1341.3 2645.5 L1355.8 2646.2 L1370.3 2646.8 L1384.8 2647.2 L1399.4 2647.5 L1413.9 2647.6 L1428.4 2647.8 L1442.9 2647.9 L1457.4 2648 L1472 2648.1 L1486.5 2648.2 L1501 2648.3 L1515.5 2648.4 L1530 2648.4 L1544.6 2648.5 L1559.1 2648.6 L1573.6 2648.6 L1588.1 2648.6 L1602.7 2648.6 L1615 2648.7" fill="none" stroke="#8000ff" stroke-width="1.15" stroke-linejoin="round"/>
<line x1="1287.5" y1="1741" x2="1208.4" y2="1800.6" stroke="#000" stroke-width="1.2" />
<polygon points="1186,1817.5 1204.1,1795.1 1212.6,1806.2" fill="#000"/>
<line x1="1352.5" y1="2282.5" x2="1105.2" y2="2425.9" stroke="#000" stroke-width="1.2" />
<polygon points="1081,2440 1101.7,2419.9 1108.7,2432" fill="#000"/>
<line x1="849" y1="2279" x2="952" y2="2476.2" stroke="#000" stroke-width="1.2" />
<polygon points="965,2501 945.8,2479.4 958.2,2472.9" fill="#000"/>
<line x1="664" y1="2384" x2="790.9" y2="2506.5" stroke="#000" stroke-width="1.2" />
<polygon points="811,2526 786,2511.6 795.7,2501.5" fill="#000"/>
<line x1="340" y1="2416" x2="393" y2="2517.7" stroke="#000" stroke-width="1.2" />
<polygon points="406,2542.5 386.8,2520.9 399.3,2514.4" fill="#000"/>
<path d="M168 3747.4 L179.5 3746.5 L194 3745 L208.5 3743.3 L223.1 3741.3 L237.6 3739 L252.1 3736.5 L266.6 3733.7 L281.2 3730.8 L295.7 3727.9 L310.2 3725.1 L324.7 3722.6 L339.2 3720.6 L353.8 3719.3 L368.3 3718.9 L382.8 3719.4 L397.3 3720.7 L411.9 3722.4 L426.4 3724.5 L440.9 3726.5 L455.4 3728.4 L469.9 3730 L484.5 3731.3 L499 3732.2 L513.5 3732.6 L528 3732.6 L542.6 3732.2 L557.1 3731.4 L571.6 3730.2 L586.1 3728.5 L600.6 3726.5 L615.2 3724.1 L629.7 3721.3 L644.2 3718.1 L658.7 3714.4 L673.2 3710.2 L687.8 3705.6 L702.3 3700.5 L716.8 3695 L731.3 3689.1 L745.9 3682.9 L760.4 3676.5 L774.9 3670 L789.4 3663.5 L803.9 3658.2 L818.5 3655.7 L833 3653.5 L847.5 3649.9 L862 3644.1 L876.6 3636.4 L891.1 3626.9 L905.6 3616.2 L920.1 3604.4 L934.6 3592 L949.2 3578.9 L963.7 3564.8 L978.2 3548.4 L992.7 3528.8 L1007.3 3505 L1021.8 3475.7 L1036.3 3439.7 L1050.8 3396 L1065.3 3344.1 L1079.9 3283.3 L1094.4 3214.9 L1108.9 3145.2 L1123.4 3068.6 L1138 2985.4 L1152.5 2909.2 L1167 2862.6 L1181.5 2867 L1196 2923.1 L1210.6 3019.6 L1225.1 3141 L1239.6 3270.1 L1254.1 3392.4 L1268.7 3498.5 L1283.2 3583.8 L1297.7 3647.8 L1312.2 3693.1 L1326.7 3723.7 L1341.3 3743.8 L1355.8 3756.7 L1370.3 3765.2 L1384.8 3771.1 L1399.4 3775.5 L1413.9 3778.9 L1428.4 3781.7 L1442.9 3784.1 L1457.4 3786.1 L1472 3787.9" fill="none" stroke="#000" stroke-width="2.2" stroke-linejoin="round"/>
<path d="M168 3760 L179.5 3760.1 L194 3760.2 L208.5 3760.4 L223.1 3760.5 L237.6 3760.6 L252.1 3760.8 L266.6 3760.9 L281.2 3761 L295.7 3761.2 L310.2 3761.3 L324.7 3761.4 L339.2 3761.6 L353.8 3761.7 L368.3 3761.8 L382.8 3761.9 L397.3 3762.1 L411.9 3762.2 L426.4 3762.3 L440.9 3762.4 L455.4 3762.5 L469.9 3762.7 L484.5 3762.8 L499 3762.9 L513.5 3763 L528 3763.1 L542.6 3763.2 L557.1 3763.2 L571.6 3763.3 L586.1 3763.4 L600.6 3763.5 L615.2 3763.6 L629.7 3763.7 L644.2 3763.8 L658.7 3763.9 L673.2 3764 L687.8 3764.2 L702.3 3764.3 L716.8 3764.4 L731.3 3764.6 L745.9 3764.7 L760.4 3764.9 L774.9 3765.1 L789.4 3765.3 L803.9 3765.6 L818.5 3765.9 L833 3766.3 L847.5 3766.7 L862 3767.1 L876.6 3767.5 L891.1 3768 L905.6 3768.4 L920.1 3768.9 L934.6 3769.4 L949.2 3770 L963.7 3770.5 L978.2 3771.1 L992.7 3771.7 L1007.3 3772.5 L1021.8 3773.2 L1036.3 3774.1 L1050.8 3775.1 L1065.3 3776.3 L1079.9 3777.7 L1094.4 3779.4 L1108.9 3781 L1123.4 3782.8 L1138 3784.8 L1152.5 3786.9 L1167 3789.2 L1181.5 3791.8 L1196 3794.3 L1210.6 3796.8 L1225.1 3799.3 L1239.6 3801.6 L1254.1 3803.5 L1268.7 3805 L1283.2 3806.3 L1297.7 3807.4 L1312.2 3808.2 L1326.7 3808.8 L1341.3 3809.3 L1355.8 3809.6 L1370.3 3809.8 L1384.8 3810 L1399.4 3810.1 L1413.9 3810.3 L1428.4 3810.4 L1442.9 3810.4 L1457.4 3810.5 L1472 3810.5" fill="none" stroke="#ff0000" stroke-width="2.2" stroke-linejoin="round"/>
<path d="M168 3759.3 L179.5 3759.3 L194 3759.5 L208.5 3759.6 L223.1 3759.7 L237.6 3759.8 L252.1 3759.9 L266.6 3760 L281.2 3760.1 L295.7 3760.2 L310.2 3760.3 L324.7 3760.4 L339.2 3760.5 L353.8 3760.6 L368.3 3760.6 L382.8 3760.7 L397.3 3760.8 L411.9 3760.9 L426.4 3760.9 L440.9 3761 L455.4 3761.1 L469.9 3761.1 L484.5 3761.2 L499 3761.2 L513.5 3761.2 L528 3761.3 L542.6 3761.3 L557.1 3761.3 L571.6 3761.3 L586.1 3761.3 L600.6 3761.2 L615.2 3761.2 L629.7 3761.2 L644.2 3761.2 L658.7 3761.1 L673.2 3761.1 L687.8 3761 L702.3 3760.9 L716.8 3760.9 L731.3 3760.8 L745.9 3760.7 L760.4 3760.6 L774.9 3760.5 L789.4 3760.4 L803.9 3760.3 L818.5 3760.2 L833 3760 L847.5 3759.9 L862 3759.7 L876.6 3759.4 L891.1 3759.1 L905.6 3758.6 L920.1 3758.1 L934.6 3757.3 L949.2 3756.1 L963.7 3754.5 L978.2 3751.9 L992.7 3747.7 L1007.3 3740.6 L1021.8 3728.4 L1036.3 3708.4 L1050.8 3676.7 L1065.3 3629.3 L1079.9 3562.8 L1094.4 3475.8 L1108.9 3370.2 L1123.4 3253.2 L1138 3137 L1152.5 3038.2 L1167 2975.6 L1181.5 2963.8 L1196 3004.7 L1210.6 3088.3 L1225.1 3198.7 L1239.6 3318.4 L1254.1 3433.2 L1268.7 3533.7 L1283.2 3615 L1297.7 3676.4 L1312.2 3719.9 L1326.7 3749.2 L1341.3 3768 L1355.8 3779.6 L1370.3 3786.8 L1384.8 3791.4 L1399.4 3794.4 L1413.9 3796.6 L1428.4 3798.3 L1442.9 3799.6 L1457.4 3800.7 L1472 3801.6" fill="none" stroke="#0000ff" stroke-width="2.2" stroke-linejoin="round"/>
<path d="M168 3757.9 L179.5 3757.9 L194 3758 L208.5 3758 L223.1 3758.1 L237.6 3758.1 L252.1 3758.2 L266.6 3758.2 L281.2 3758.2 L295.7 3758.3 L310.2 3758.3 L324.7 3758.3 L339.2 3758.3 L353.8 3758.3 L368.3 3758.3 L382.8 3758.2 L397.3 3758.2 L411.9 3758.2 L426.4 3758.1 L440.9 3758 L455.4 3757.9 L469.9 3757.8 L484.5 3757.7 L499 3757.5 L513.5 3757.4 L528 3757.2 L542.6 3756.9 L557.1 3756.7 L571.6 3756.4 L586.1 3756 L600.6 3755.7 L615.2 3755.3 L629.7 3754.8 L644.2 3754.3 L658.7 3753.8 L673.2 3753.1 L687.8 3752.5 L702.3 3751.7 L716.8 3750.8 L731.3 3749.8 L745.9 3748.7 L760.4 3747.4 L774.9 3745.9 L789.4 3744.2 L803.9 3742.3 L818.5 3740.1 L833 3737.5 L847.5 3734.3 L862 3730.6 L876.6 3726 L891.1 3720.4 L905.6 3713.5 L920.1 3705 L934.6 3694.5 L949.2 3681.5 L963.7 3665.5 L978.2 3646.2 L992.7 3623.3 L1007.3 3597.4 L1021.8 3570.3 L1036.3 3545.5 L1050.8 3528.4 L1065.3 3523.9 L1079.9 3534.2 L1094.4 3556.6 L1108.9 3585.6 L1123.4 3615.8 L1138 3644.1 L1152.5 3669.1 L1167 3690.6 L1181.5 3708.9 L1196 3724.2 L1210.6 3737 L1225.1 3747.9 L1239.6 3757.1 L1254.1 3764.6 L1268.7 3770.8 L1283.2 3776 L1297.7 3780.3 L1312.2 3783.9 L1326.7 3786.9 L1341.3 3789.5 L1355.8 3791.5 L1370.3 3793.3 L1384.8 3794.8 L1399.4 3796.2 L1413.9 3797.4 L1428.4 3798.4 L1442.9 3799.4 L1457.4 3800.2 L1472 3800.9" fill="none" stroke="#ff00ff" stroke-width="2.2" stroke-linejoin="round"/>
<path d="M168 3758.9 L179.5 3758.9 L194 3759 L208.5 3759.1 L223.1 3759.2 L237.6 3759.3 L252.1 3759.4 L266.6 3759.4 L281.2 3759.5 L295.7 3759.6 L310.2 3759.6 L324.7 3759.7 L339.2 3759.7 L353.8 3759.7 L368.3 3759.8 L382.8 3759.8 L397.3 3759.8 L411.9 3759.8 L426.4 3759.8 L440.9 3759.8 L455.4 3759.8 L469.9 3759.7 L484.5 3759.6 L499 3759.6 L513.5 3759.4 L528 3759.3 L542.6 3759.1 L557.1 3758.9 L571.6 3758.7 L586.1 3758.4 L600.6 3758.1 L615.2 3757.8 L629.7 3757.4 L644.2 3756.9 L658.7 3756.4 L673.2 3755.8 L687.8 3755.1 L702.3 3754.3 L716.8 3753.3 L731.3 3752.2 L745.9 3750.9 L760.4 3749.3 L774.9 3747.4 L789.4 3745.2 L803.9 3742.6 L818.5 3739.4 L833 3735.6 L847.5 3731.1 L862 3725.8 L876.6 3719.7 L891.1 3713 L905.6 3706.3 L920.1 3700.3 L934.6 3696.3 L949.2 3695.1 L963.7 3697.1 L978.2 3701.9 L992.7 3708.7 L1007.3 3716.4 L1021.8 3724.1 L1036.3 3731.5 L1050.8 3738.2 L1065.3 3744.4 L1079.9 3750.1 L1094.4 3755.3 L1108.9 3760 L1123.4 3764.3 L1138 3768.4 L1152.5 3772.3 L1167 3776.2 L1181.5 3780.1 L1196 3783.8 L1210.6 3787.3 L1225.1 3790.7 L1239.6 3793.7 L1254.1 3796.2 L1268.7 3798.4 L1283.2 3800.2 L1297.7 3801.7 L1312.2 3802.9 L1326.7 3803.9 L1341.3 3804.8 L1355.8 3805.3 L1370.3 3805.8 L1384.8 3806.2 L1399.4 3806.6 L1413.9 3807 L1428.4 3807.2 L1442.9 3807.5 L1457.4 3807.7 L1472 3807.9" fill="none" stroke="#008000" stroke-width="2.2" stroke-linejoin="round"/>
<path d="M168 3758.1 L179.5 3758.2 L194 3758.2 L208.5 3758.3 L223.1 3758.3 L237.6 3758.3 L252.1 3758.3 L266.6 3758.3 L281.2 3758.3 L295.7 3758.3 L310.2 3758.2 L324.7 3758.2 L339.2 3758.1 L353.8 3758 L368.3 3757.9 L382.8 3757.8 L397.3 3757.6 L411.9 3757.4 L426.4 3757.2 L440.9 3756.9 L455.4 3756.6 L469.9 3756.2 L484.5 3755.7 L499 3755.2 L513.5 3754.6 L528 3753.9 L542.6 3753.1 L557.1 3752.1 L571.6 3751 L586.1 3749.7 L600.6 3748.2 L615.2 3746.4 L629.7 3744.3 L644.2 3741.9 L658.7 3739.1 L673.2 3735.9 L687.8 3732.2 L702.3 3728.1 L716.8 3723.8 L731.3 3719.4 L745.9 3715.3 L760.4 3712 L774.9 3710 L789.4 3709.7 L803.9 3711.1 L818.5 3714 L833 3718 L847.5 3722.6 L862 3727.4 L876.6 3732.1 L891.1 3736.6 L905.6 3740.6 L920.1 3744.3 L934.6 3747.6 L949.2 3750.6 L963.7 3753.2 L978.2 3755.6 L992.7 3757.9 L1007.3 3759.9 L1021.8 3761.9 L1036.3 3763.8 L1050.8 3765.7 L1065.3 3767.7 L1079.9 3769.9 L1094.4 3772.1 L1108.9 3774.4 L1123.4 3776.7 L1138 3779.1 L1152.5 3781.6 L1167 3784.3 L1181.5 3787.2 L1196 3790 L1210.6 3792.7 L1225.1 3795.5 L1239.6 3798.1 L1254.1 3800.1 L1268.7 3801.8 L1283.2 3803.3 L1297.7 3804.5 L1312.2 3805.4 L1326.7 3806.3 L1341.3 3806.9 L1355.8 3807.3 L1370.3 3807.6 L1384.8 3807.8 L1399.4 3808.1 L1413.9 3808.3 L1428.4 3808.5 L1442.9 3808.7 L1457.4 3808.8 L1472 3808.9" fill="none" stroke="#000080" stroke-width="2.2" stroke-linejoin="round"/>
<path d="M168 3752.3 L179.5 3751.6 L194 3750.4 L208.5 3749.1 L223.1 3747.5 L237.6 3745.8 L252.1 3743.8 L266.6 3741.6 L281.2 3739.2 L295.7 3736.8 L310.2 3734.4 L324.7 3732.4 L339.2 3730.8 L353.8 3729.9 L368.3 3729.8 L382.8 3730.7 L397.3 3732.4 L411.9 3734.8 L426.4 3737.4 L440.9 3740.2 L455.4 3742.9 L469.9 3745.5 L484.5 3747.9 L499 3750 L513.5 3751.8 L528 3753.4 L542.6 3754.8 L557.1 3756 L571.6 3757 L586.1 3757.9 L600.6 3758.6 L615.2 3759.3 L629.7 3759.8 L644.2 3760.3 L658.7 3760.7 L673.2 3761.1 L687.8 3761.5 L702.3 3761.8 L716.8 3762.1 L731.3 3762.5 L745.9 3762.8 L760.4 3763.1 L774.9 3763.4 L789.4 3763.7 L803.9 3764.1 L818.5 3764.5 L833 3764.9 L847.5 3765.4 L862 3765.9 L876.6 3766.4 L891.1 3766.9 L905.6 3767.4 L920.1 3768 L934.6 3768.5 L949.2 3769.1 L963.7 3769.7 L978.2 3770.3 L992.7 3771 L1007.3 3771.7 L1021.8 3772.5 L1036.3 3773.4 L1050.8 3774.4 L1065.3 3775.6 L1079.9 3777.1 L1094.4 3778.8 L1108.9 3780.5 L1123.4 3782.3 L1138 3784.3 L1152.5 3786.4 L1167 3788.8 L1181.5 3791.3 L1196 3793.9 L1210.6 3796.4 L1225.1 3798.9 L1239.6 3801.2 L1254.1 3803.1 L1268.7 3804.6 L1283.2 3806 L1297.7 3807 L1312.2 3807.8 L1326.7 3808.5 L1341.3 3809 L1355.8 3809.3 L1370.3 3809.5 L1384.8 3809.7 L1399.4 3809.8 L1413.9 3810 L1428.4 3810.1 L1442.9 3810.2 L1457.4 3810.2 L1472 3810.2" fill="none" stroke="#8000ff" stroke-width="2.2" stroke-linejoin="round"/>
<line x1="1252.5" y1="2912.5" x2="1204" y2="2953" stroke="#000" stroke-width="2.2" />
<polygon points="1182.5,2971 1199.5,2947.7 1208.5,2958.4" fill="#000"/>
<line x1="1309" y1="3427.5" x2="1091.9" y2="3515.5" stroke="#000" stroke-width="2.2" />
<polygon points="1066,3526 1089.3,3509 1094.6,3522" fill="#000"/>
<line x1="841" y1="3576" x2="914.2" y2="3673.6" stroke="#000" stroke-width="2.2" />
<polygon points="931,3696 908.6,3677.8 919.8,3669.4" fill="#000"/>
<line x1="612.5" y1="3531" x2="743.5" y2="3694.2" stroke="#000" stroke-width="2.2" />
<polygon points="761,3716 738,3698.5 748.9,3689.8" fill="#000"/>
<line x1="330" y1="3655" x2="352.6" y2="3705.4" stroke="#000" stroke-width="2.2" />
<polygon points="364,3731 346.2,3708.3 359,3702.6" fill="#000"/>
</g>
</svg>
</body></html>
